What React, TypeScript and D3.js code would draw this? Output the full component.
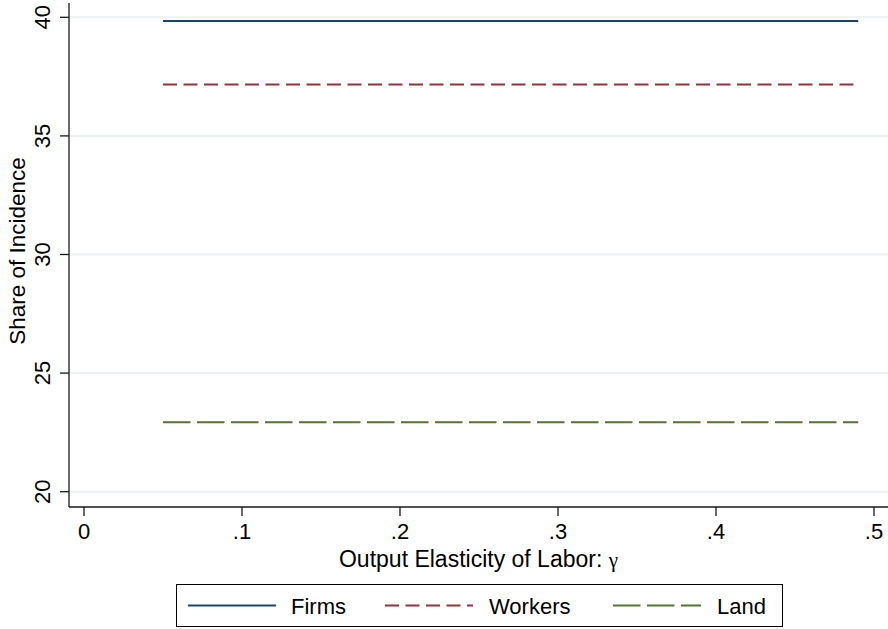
import React from "react";
import * as d3 from "d3";

const gamma = [0.05, 0.1, 0.15, 0.2, 0.25, 0.3, 0.35, 0.4, 0.45, 0.49];
const firms = [39.84, 39.84, 39.84, 39.84, 39.84, 39.84, 39.84, 39.84, 39.84, 39.84];
const workers = [37.17, 37.17, 37.17, 37.17, 37.17, 37.17, 37.17, 37.17, 37.17, 37.17];
const land = [22.93, 22.93, 22.93, 22.93, 22.93, 22.93, 22.93, 22.93, 22.93, 22.93];
const xTicks = [0, 0.1, 0.2, 0.3, 0.4, 0.5];
const xTickLabels = ["0", ".1", ".2", ".3", ".4", ".5"];
const yTicks = [20, 25, 30, 35, 40];
const seriesNames = ["Firms", "Workers", "Land"];

const W = 888;
const H = 629;
const plotL = 69;
const plotR = 888;
const plotT = 3;
const plotB = 507;

const FONT = "'Liberation Sans', Arial, Helvetica, sans-serif";

export default function App() {
  const x = d3.scaleLinear().domain([0, 0.5]).range([84, 874]);
  const y = d3.scaleLinear().domain([20, 40]).range([491.7, 17.3]);

  const series = [
    { name: seriesNames[0], values: firms, color: "#1a476f", dash: "none" },
    { name: seriesNames[1], values: workers, color: "#90353b", dash: "14 6.5" },
    { name: seriesNames[2], values: land, color: "#55752f", dash: "27.5 6.5" },
  ];

  const line = d3
    .line<[number, number]>()
    .x((d) => x(d[0]))
    .y((d) => y(d[1]));

  const legendItems = [
    { lx: 188, tx: 291 },
    { lx: 385, tx: 489 },
    { lx: 613, tx: 717 },
  ];

  return (
    <svg
      width={W}
      height={H}
      style={{ position: "absolute", left: 0, top: 0, background: "#fff" }}
      fontFamily={FONT}
    >
      <rect x={0} y={0} width={W} height={H} fill="#ffffff" />
      {/* gridlines */}
      {yTicks.map((t) => (
        <line
          key={"g" + t}
          x1={plotL}
          x2={plotR}
          y1={y(t)}
          y2={y(t)}
          stroke="#eaf2f3"
          strokeWidth={2}
        />
      ))}
      {/* series */}
      {series.map((s) => (
        <path
          key={s.name}
          d={line(gamma.map((g, i) => [g, s.values[i]] as [number, number])) || ""}
          fill="none"
          stroke={s.color}
          strokeWidth={2}
          strokeDasharray={s.dash}
        />
      ))}
      {/* y axis */}
      <line x1={plotL} x2={plotL} y1={plotT} y2={plotB} stroke="#1a1a1a" strokeWidth={1.3} />
      {yTicks.map((t) => (
        <g key={"yt" + t}>
          <line x1={60} x2={plotL} y1={y(t)} y2={y(t)} stroke="#1a1a1a" strokeWidth={1.3} />
          <text
            transform={`translate(50,${y(t)}) rotate(-90)`}
            textAnchor="middle"
            fontSize={22}
            fill="#000"
          >
            {t}
          </text>
        </g>
      ))}
      {/* x axis */}
      <line x1={plotL} x2={plotR} y1={plotB} y2={plotB} stroke="#1a1a1a" strokeWidth={1.3} />
      {xTicks.map((t, i) => (
        <g key={"xt" + t}>
          <line x1={x(t)} x2={x(t)} y1={plotB} y2={516} stroke="#1a1a1a" strokeWidth={1.3} />
          <text x={x(t)} y={539} textAnchor="middle" fontSize={22} fill="#000">
            {xTickLabels[i]}
          </text>
        </g>
      ))}
      {/* axis titles */}
      <text x={(plotL + plotR) / 2} y={567} textAnchor="middle" fontSize={23} fill="#000">
        Output Elasticity of Labor:{" "}
        <tspan fontFamily="'Liberation Serif', 'DejaVu Serif', serif" fontSize={21}>
          γ
        </tspan>
      </text>
      <text
        transform={`translate(25,251) rotate(-90)`}
        textAnchor="middle"
        fontSize={22.5}
        fill="#000"
      >
        Share of Incidence
      </text>
      {/* legend */}
      <rect x={176.5} y={584.5} width={606} height={42} fill="#fff" stroke="#000" strokeWidth={1} />
      {series.map((s, i) => (
        <g key={"lg" + s.name}>
          <line
            x1={legendItems[i].lx}
            x2={legendItems[i].lx + 88}
            y1={605.5}
            y2={605.5}
            stroke={s.color}
            strokeWidth={2}
            strokeDasharray={s.dash}
          />
          <text x={legendItems[i].tx} y={613.5} fontSize={22} fill="#000">
            {s.name}
          </text>
        </g>
      ))}
    </svg>
  );
}
